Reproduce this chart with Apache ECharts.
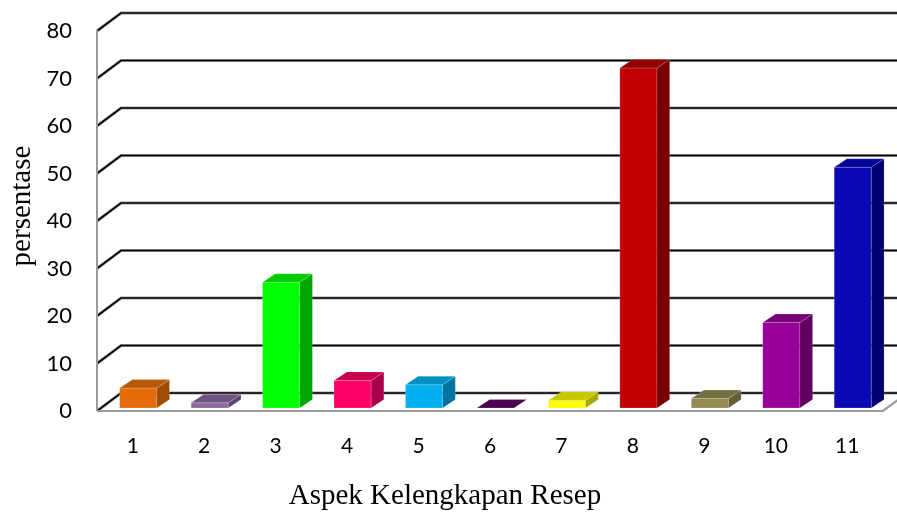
<!DOCTYPE html>
<html>
<head>
<meta charset="utf-8">
<script src="https://cdn.jsdelivr.net/npm/echarts@6/dist/echarts.min.js"></script>
<style>
  html, body { margin: 0; padding: 0; background: #fff; }
  #chart { width: 897px; height: 512px; }
</style>
</head>
<body>
<div id="chart"></div>
<script>
// data
const categories = ['1', '2', '3', '4', '5', '6', '7', '8', '9', '10', '11']
const values = [4.2, 1.1, 26.5, 5.8, 4.9, 0, 1.6, 71.6, 2.0, 18.0, 50.7]
const yTicks = [0, 10, 20, 30, 40, 50, 60, 70, 80]

// bar colours: front / side / top
const frontColors = ['#e46c0a', '#8a6a9a', '#00ff00', '#ff0066', '#00b0f0', '#4b0050', '#ffff00', '#c00000', '#948a54', '#990099', '#0a0ab4']
const sideColors = ['#a04c06', '#5e4670', '#00a800', '#a8004a', '#00749e', '#3a003e', '#a8a800', '#780000', '#66603a', '#600060', '#000070']
const topColors = ['#b85808', '#6e5482', '#00cc00', '#c80050', '#0090c4', '#4b0050', '#c8c800', '#920000', '#75703f', '#760076', '#06069a']

let chart = echarts.init(document.getElementById('chart'))

// wall depth (back plane offset) and bar depth
const wallDx = 24, wallDy = -18
const barDx = 12.7, barDy = -8.5

function renderWall(params, api) {
  let p = api.coord([0, api.value(1)])
  let left = params.coordSys.x
  let right = left + params.coordSys.width
  let y = p[1]
  return {
    type: 'group',
    children: [
      { type: 'polyline', shape: { points: [[left, y], [left + wallDx, y + wallDy], [right + 60, y + wallDy]] },
        style: { stroke: '#9a9a9a', lineWidth: 3.2, fill: null } },
      { type: 'polyline', shape: { points: [[left, y], [left + wallDx, y + wallDy], [right + 60, y + wallDy]] },
        style: { stroke: '#000', lineWidth: 1.6, fill: null } }
    ]
  }
}

function renderFloor(params, api) {
  let p0 = api.coord([0, 0])
  let pTop = api.coord([0, 80])
  let left = params.coordSys.x
  let right = left + params.coordSys.width
  return {
    type: 'group',
    children: [
      { type: 'line', shape: { x1: left, y1: pTop[1] - 1, x2: left, y2: p0[1] },
        style: { stroke: '#9a9a9a', lineWidth: 2 } },
      { type: 'polyline', shape: { points: [[left, p0[1]], [right, p0[1]], [right + wallDx, p0[1] + wallDy]] },
        style: { stroke: '#9a9a9a', lineWidth: 2.2, fill: null } }
    ]
  }
}

function renderBar(params, api) {
  let i = api.value(0)
  let base = api.coord([i, 0])
  let top = api.coord([i, api.value(1)])
  let bw = api.size([1, 0])[0] * 0.52
  let x0 = base[0] - bw / 2 + 5.5
  let x1 = x0 + bw
  let yb = base[1] - 3
  let yt = top[1] - 3
  let children = []
  if (yb - yt > 0.5) {
    children.push({ type: 'rect', shape: { x: x0, y: yt, width: bw, height: yb - yt },
      style: { fill: frontColors[i], stroke: 'rgba(255,255,255,0.35)', lineWidth: 0.6 } })
    children.push({ type: 'polygon', shape: { points: [[x1, yt], [x1 + barDx, yt + barDy], [x1 + barDx, yb + barDy], [x1, yb]] },
      style: { fill: sideColors[i], stroke: 'rgba(255,255,255,0.25)', lineWidth: 0.6 } })
  }
  children.push({ type: 'polygon', shape: { points: [[x0, yt], [x0 + barDx, yt + barDy], [x1 + barDx, yt + barDy], [x1, yt]] },
    style: { fill: topColors[i], stroke: 'rgba(255,255,255,0.3)', lineWidth: 0.6 } })
  return { type: 'group', children: children }
}

let option = {
  animation: false,
  grid: { left: 97, right: 14, top: 31, bottom: 101 },
  xAxis: {
    type: 'category',
    data: categories,
    axisLine: { show: false },
    axisTick: { show: false },
    axisLabel: { color: '#000', fontSize: 21, fontFamily: 'Lato', margin: 25 }
  },
  yAxis: {
    type: 'value',
    min: 0,
    max: 80,
    interval: 10,
    splitLine: { show: false },
    axisLine: { show: false },
    axisTick: { show: false },
    axisLabel: { color: '#000', fontSize: 22, fontFamily: 'Lato', margin: 25 }
  },
  graphic: [
    { type: 'text', x: 22, y: 206, rotation: Math.PI / 2,
      style: { text: 'persentase', font: '29px "Liberation Serif"', fill: '#000', textAlign: 'center', textVerticalAlign: 'middle' } },
    { type: 'text', x: 445, y: 496,
      style: { text: 'Aspek Kelengkapan Resep', font: '29px "Liberation Serif"', fill: '#000', textAlign: 'center', textVerticalAlign: 'middle' } }
  ],
  series: [
    { type: 'custom', name: 'walls', z: 1, silent: true, renderItem: renderWall, data: yTicks.map(t => [0, t]) },
    { type: 'custom', name: 'floor', z: 2, silent: true, renderItem: renderFloor, data: [[0, 0]] },
    { type: 'custom', name: 'persentase', z: 3, renderItem: renderBar, data: values.map((v, i) => [i, v]) }
  ]
}

chart.setOption(option)
</script>
</body>
</html>
